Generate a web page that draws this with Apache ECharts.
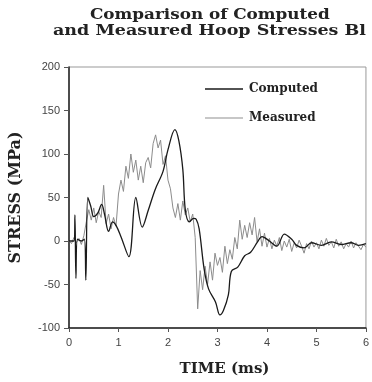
<!DOCTYPE html>
<html>
<head>
<meta charset="utf-8">
<script src="https://cdn.jsdelivr.net/npm/echarts@6/dist/echarts.min.js"></script>
<style>
  html, body { margin: 0; padding: 0; background: #fff; }
  #chart { width: 372px; height: 382px; }
</style>
</head>
<body>
<div id="chart"></div>
<script>
// values (time in ms, stress in MPa)
var computedTime = [0, 0.1, 0.12, 0.14, 0.17, 0.25, 0.31, 0.34, 0.38, 0.44, 0.5, 0.58, 0.66, 0.72, 0.8, 0.88,
  0.95, 1.05, 1.21, 1.35, 1.48, 1.6, 1.74, 1.9, 2.0, 2.14, 2.22, 2.3, 2.35, 2.43, 2.52, 2.57, 2.63, 2.73,
  2.82, 2.96, 3.05, 3.12, 3.22, 3.28, 3.41, 3.55, 3.67, 3.81, 3.9, 4.05, 4.2, 4.35, 4.5, 4.6, 4.75, 4.9,
  5.1, 5.3, 5.5, 5.7, 5.85, 6.0];
var computedStress = [0, 0, 30, -43, 2, 0, 2, -45, 50, 40, 28, 32, 42, 30, 11, 22,
  18, 5, -18, 50, 16, 35, 59, 80, 105, 128, 115, 82, 36, 22, 26, 25, 14, -32,
  -55, -70, -85, -80, -62, -35, -30, -17, -13, -1, 5, 0, -6, 8, 2, -5, -8, -2,
  -5, -1, -4, -2, -5, -3];

var measuredTime = [0, 0.05, 0.1, 0.15, 0.2, 0.25, 0.3, 0.35, 0.4, 0.45, 0.5, 0.55, 0.6, 0.65, 0.7, 0.75,
  0.8, 0.85, 0.9, 0.95, 1.0, 1.05, 1.1, 1.15, 1.2, 1.25, 1.3, 1.35, 1.4, 1.45, 1.5, 1.55, 1.6, 1.65, 1.7,
  1.75, 1.8, 1.85, 1.9, 1.95, 2.0, 2.05, 2.1, 2.15, 2.2, 2.25, 2.3, 2.35, 2.4, 2.45, 2.5, 2.55, 2.6, 2.65,
  2.7, 2.75, 2.8, 2.85, 2.9, 2.95, 3.0, 3.05, 3.1, 3.15, 3.2, 3.25, 3.3, 3.35, 3.4, 3.45, 3.5, 3.55, 3.6,
  3.65, 3.7, 3.75, 3.8, 3.85, 3.9, 3.95, 4.0, 4.05, 4.1, 4.15, 4.2, 4.25, 4.3, 4.35, 4.4, 4.45, 4.5, 4.55,
  4.6, 4.65, 4.7, 4.75, 4.8, 4.85, 4.9, 4.95, 5.0, 5.05, 5.1, 5.15, 5.2, 5.25, 5.3, 5.35, 5.4, 5.45, 5.5,
  5.55, 5.6, 5.65, 5.7, 5.75, 5.8, 5.85, 5.9, 5.95, 6.0];
var measuredStress = [0, -3, 4, -2, 3, -4, 6, 22, 36, 24, 38, 21, 34, 27, 64, 20,
  31, 14, 27, 17, 54, 70, 57, 86, 72, 100, 79, 93, 70, 86, 67, 90, 96, 84, 112,
  122, 107, 116, 88, 98, 70, 60, 38, 27, 43, 24, 46, 30, 38, 22, 31, 4, -78, -34,
  -56, -29, -50, -24, -45, -14, -28, -19, -36, -6, -26, -10, -21, 4, -9, 24, 2, 18, 4,
  21, 7, 27, -1, 14, -6, 9, -7, 3, -9, 1, -6, 4, -11, 0, -7, 2, -12, -2,
  -8, 1, -6, -14, -3, -9, 0, -7, -2, -9, 1, -6, 3, -5, -1, -8, 2, -6, -1,
  -9, -3, -7, 0, -8, -2, -6, -10, -4, -7];

var seriesNames = ['Computed', 'Measured'];
var titleLines = ['Comparison of Computed', 'and Measured Hoop Stresses Bl'];

function pairs(xs, ys) {
  return xs.map(function (x, i) { return [x, ys[i]]; });
}

var serif = 'DejaVu Serif';
var chart = echarts.init(document.getElementById('chart'));

chart.setOption({
  animation: false,
  backgroundColor: '#fff',
  grid: {
    left: 67, right: 3, top: 67, bottom: 52,
    show: true, borderColor: '#999', borderWidth: 1
  },
  graphic: [
    // title lines are set wider than the font to follow the spaced-out original
    { type: 'text', x: 90, y: 8, scaleX: 1.2, style: { text: titleLines[0], font: 'bold 14px "' + serif + '"', fill: '#222' } },
    { type: 'text', x: 53, y: 24, scaleX: 1.25, style: { text: titleLines[1], font: 'bold 14px "' + serif + '"', fill: '#222' } }
  ],
  legend: {
    orient: 'vertical',
    left: 200, top: 78,
    icon: 'rect',
    itemWidth: 38, itemHeight: 1.5, itemGap: 17,
    selectedMode: false,
    textStyle: { fontFamily: serif, fontWeight: 'bold', fontSize: 12, color: '#222', padding: [0, 0, 0, 1] },
    data: seriesNames
  },
  xAxis: {
    type: 'value',
    min: 0, max: 6, interval: 1,
    name: 'TIME (ms)',
    nameLocation: 'middle',
    nameGap: 34,
    nameTextStyle: { fontFamily: serif, fontWeight: 'bold', fontSize: 15, color: '#222', padding: [0, 0, 0, 14] },
    axisLine: { onZero: false, lineStyle: { color: '#222', width: 1.5 } },
    axisTick: { length: 4, lineStyle: { color: '#555' } },
    axisLabel: { margin: 9, fontFamily: 'Liberation Sans', fontSize: 11, color: '#444' },
    splitLine: { show: false }
  },
  yAxis: {
    type: 'value',
    min: -100, max: 200, interval: 50,
    name: 'STRESS (MPa)',
    nameLocation: 'middle',
    nameGap: 45,
    nameTextStyle: { fontFamily: serif, fontWeight: 'bold', fontSize: 16, color: '#222' },
    axisLine: { show: true, onZero: false, lineStyle: { color: '#222', width: 1.5 } },
    axisTick: { show: true, length: 5, lineStyle: { color: '#555' } },
    axisLabel: { margin: 9, fontFamily: 'Liberation Sans', fontSize: 11, color: '#444' },
    splitLine: { show: false }
  },
  series: [
    {
      name: seriesNames[0],
      type: 'line',
      data: pairs(computedTime, computedStress),
      symbol: 'none',
      smooth: 0.35,
      z: 3,
      lineStyle: { color: '#1a1a1a', width: 1.3 },
      itemStyle: { color: '#1a1a1a' }
    },
    {
      name: seriesNames[1],
      type: 'line',
      data: pairs(measuredTime, measuredStress),
      symbol: 'none',
      z: 2,
      lineStyle: { color: '#8c8c8c', width: 1 },
      itemStyle: { color: '#b5b5b5' }
    }
  ]
});
</script>
</body>
</html>
